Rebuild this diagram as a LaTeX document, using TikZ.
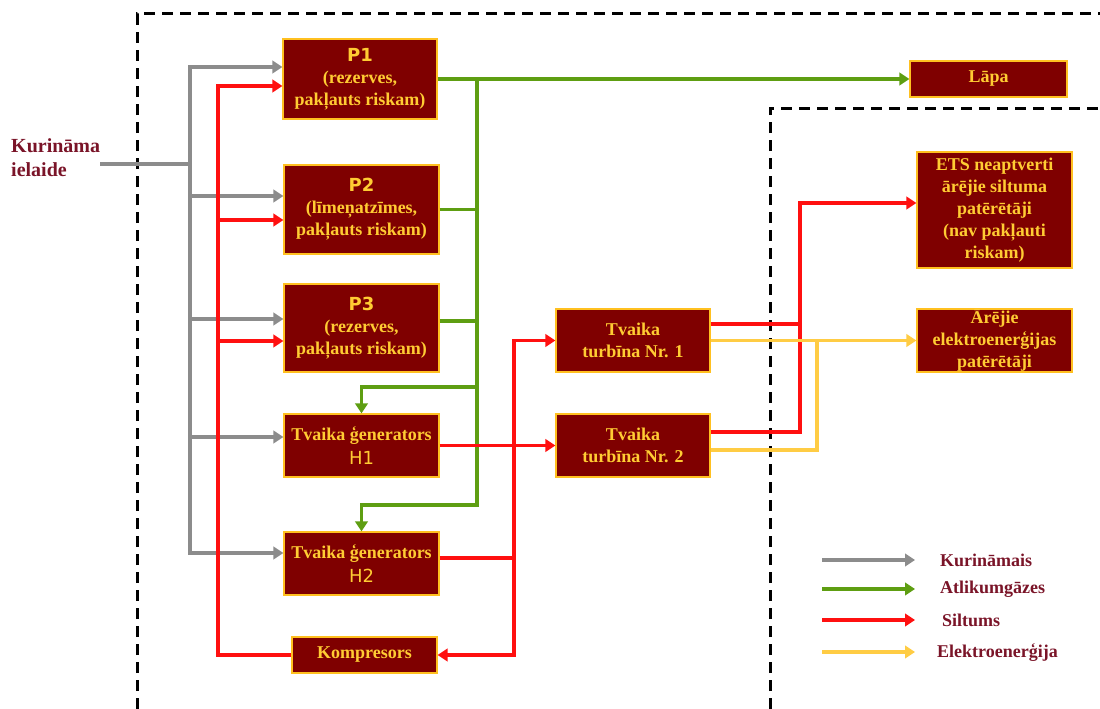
\documentclass[tikz,border=0pt]{standalone}
\usepackage{fontspec}
\setmainfont{Liberation Serif}
\newfontfamily\psans{DejaVu Sans}
\usetikzlibrary{arrows.meta}
\definecolor{boxfill}{HTML}{7F0000}
\definecolor{boxedge}{HTML}{FFC020}
\definecolor{boxtext}{HTML}{FFCC33}
\definecolor{cgray}{HTML}{8C8C8C}
\definecolor{cgreen}{HTML}{5E9E12}
\definecolor{cred}{HTML}{FF1010}
\definecolor{cyel}{HTML}{FFCC44}
\definecolor{labtext}{HTML}{7A1428}
\begin{document}
\begin{tikzpicture}[x=1pt,y=-1pt,
  bx/.style={draw=boxedge, line width=1.2pt, fill=boxfill, text=boxtext, align=center,
    inner sep=0pt, font=\fontsize{18}{22}\selectfont\bfseries},
  lab/.style={text=labtext, font=\fontsize{18}{22}\selectfont\bfseries, inner sep=0pt},
  flow/.style={line width=3.8pt},
  tipend/.style={-{Triangle[length=10pt,width=12.5pt]}},
  fgray/.style={flow, draw=cgray},
  fgreen/.style={flow, draw=cgreen},
  fred/.style={flow, draw=cred},
  fyel/.style={flow, draw=cyel},
  dsh/.style={draw=black, line width=3pt, dash pattern=on 11pt off 7pt}
]
\useasboundingbox (0,0) rectangle (1100,709);

% dashed boundaries
\draw[dsh] (137,709) -- (137,14) -- (1100,14);
\draw[dsh] (770,709) -- (770,108) -- (1100,108);

% boxes
\node[bx, minimum width=154pt, minimum height=80pt] (P1) at (360,79)
  {{\psans\bfseries P1}\\(rezerves,\\pakļauts riskam)};
\node[bx, minimum width=155pt, minimum height=89pt] (P2) at (361.5,209.5)
  {{\psans\bfseries P2}\\(līmeņatzīmes,\\pakļauts riskam)};
\node[bx, minimum width=155pt, minimum height=88pt] (P3) at (361.5,328)
  {{\psans\bfseries P3}\\(rezerves,\\pakļauts riskam)};
\node[bx, minimum width=155pt, minimum height=63pt] (H1) at (361.5,445.5)
  {Tvaika ģenerators\\[2pt]{\psans\mdseries H1}};
\node[bx, minimum width=155pt, minimum height=63pt] (H2) at (361.5,563.5)
  {Tvaika ģenerators\\[2pt]{\psans\mdseries H2}};
\node[bx, minimum width=145pt, minimum height=36pt] (Komp) at (364.5,655) {Kompresors};
\node[bx, minimum width=157pt, minimum height=36pt] (Lapa) at (988.5,79) {Lāpa};
\node[bx, minimum width=154pt, minimum height=63pt] (T1) at (633,340.5) {Tvaika\\turbīna Nr. 1};
\node[bx, minimum width=154pt, minimum height=63pt] (T2) at (633,445.5) {Tvaika\\turbīna Nr. 2};
\node[bx, minimum width=155pt, minimum height=116pt] (ETS) at (994.5,210)
  {ETS neaptverti\\ārējie siltuma\\patērētāji\\(nav pakļauti\\riskam)};
\node[bx, minimum width=155pt, minimum height=63pt] (Ar) at (994.5,340.5)
  {Ārējie\\elektroenerģijas\\patērētāji};

% input label
\node[lab, anchor=north west, align=left, font=\fontsize{20}{24}\selectfont\bfseries] (kur) at (11,138) {Kurināma\\ielaide};
\coordinate (kin) at (100,164);

% gray fuel lines
\draw[fgray] (kin) -- (190,164);
\draw[fgray, tipend] (190,164) |- (P1.west |- 0,67);
\draw[fgray, tipend] (190,164) |- (H2.west |- 0,553);
\draw[fgray, tipend] (190,196) -- (P2.west |- 0,196);
\draw[fgray, tipend] (190,319) -- (P3.west |- 0,319);
\draw[fgray, tipend] (190,437) -- (H1.west |- 0,437);

% red heat from compressor
\draw[fred, tipend] (Komp.west) -| (218,86) -- (P1.west |- 0,86);
\draw[fred, tipend] (218,220) -- (P2.west |- 0,220);
\draw[fred, tipend] (218,341) -- (P3.west |- 0,341);

% green residual gases
\draw[fgreen, tipend] (P1.east) -- (Lapa.west);
\draw[fgreen, tipend] (477,79) |- (H2.north |- 0,505) -- (H2.north);
\draw[fgreen, tipend] (477,387) -| (H1.north);
\draw[fgreen] (P2.east) -- (477,209.5);
\draw[fgreen] (P3.east |- 0,321) -- (477,321);

% red heat from generators
\draw[fred, tipend] (H1.east) -- (T2.west);
\draw[fred, tipend] (H2.east |- 0,558) -| (514,340.5) -- (T1.west);
\draw[fred, tipend] (514,558) |- (Komp.east);

% turbine outputs
\draw[fred, tipend] (T2.east |- 0,432) -| (800,203) -- (ETS.west |- 0,203);
\draw[fred] (T1.east |- 0,324) -- (800,324);
\draw[fyel, tipend] (T1.east |- 0,340.5) -- (Ar.west);
\draw[fyel] (T2.east |- 0,450) -| (817,340.5);

% legend
\node[lab, anchor=west] (l1) at (940,560) {Kurināmais};
\node[lab, anchor=west] (l2) at (940,589) {Atlikumgāzes};
\node[lab, anchor=west] (l3) at (942,620) {Siltums};
\node[lab, anchor=west] (l4) at (937,653) {Elektroenerģija};
\coordinate (a1s) at (822,560); \coordinate (a1e) at (915,560);
\coordinate (a2s) at (822,589); \coordinate (a2e) at (915,589);
\coordinate (a3s) at (822,620); \coordinate (a3e) at (915,620);
\coordinate (a4s) at (822,652); \coordinate (a4e) at (915,652);
\draw[fgray, tipend] (a1s) -- (a1e);
\draw[fgreen, tipend] (a2s) -- (a2e);
\draw[fred, tipend] (a3s) -- (a3e);
\draw[fyel, tipend] (a4s) -- (a4e);
\end{tikzpicture}
\end{document}
